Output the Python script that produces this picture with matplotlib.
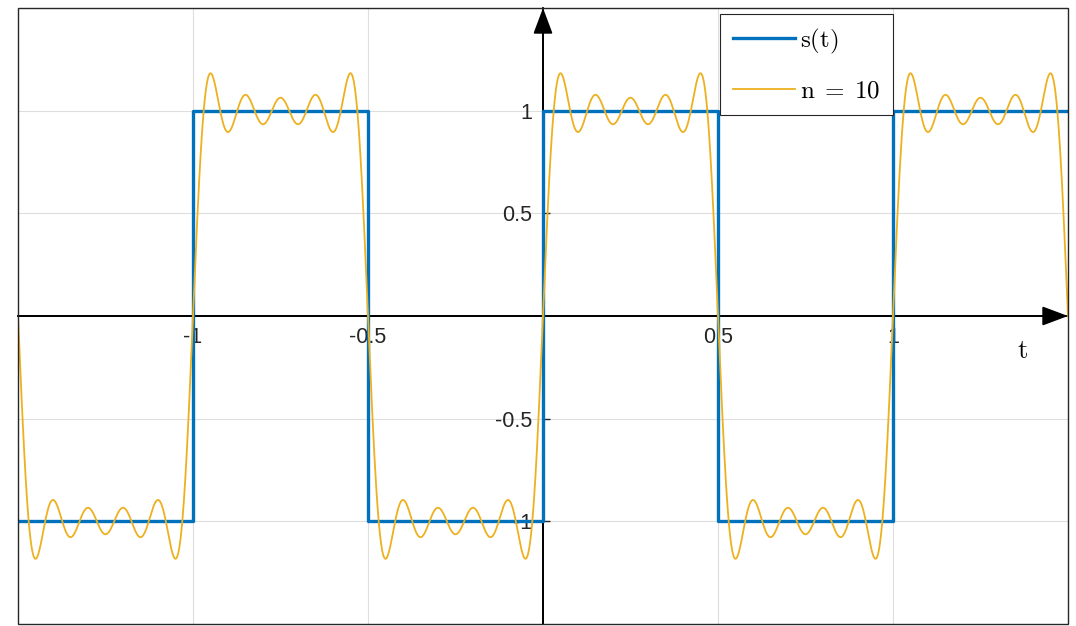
import numpy as np
import matplotlib.pyplot as plt
from matplotlib.patches import Rectangle

plt.rcParams['font.family'] = ['Liberation Sans', 'DejaVu Sans']
plt.rcParams['mathtext.fontset'] = 'cm'
plt.rcParams['axes.unicode_minus'] = False

# square wave s(t): one level per half period
edges = [-1.5, -1.0, -0.5, 0.0, 0.5, 1.0, 1.5]
levels = [-1, 1, -1, 1, -1, 1]

# Fourier partial sum with n terms
n_terms = 10
t = np.linspace(-1.5, 1.5, 3001)

xticks = [-1, -0.5, 0.5, 1]
xticklabels = ['-1', '-0.5', '0.5', '1']
yticks = [-1, -0.5, 0.5, 1]
yticklabels = ['-1', '-0.5', '0.5', '1']

blue = '#0072BD'
orange = '#EDB120'

sn = np.zeros_like(t)
for k in range(1, n_terms + 1):
    sn += 2 / (np.pi * k) * (1 - np.cos(np.pi * k)) * np.sin(2 * np.pi * k * t)

fig = plt.figure(figsize=(10.76, 6.26), dpi=100)
ax = fig.add_axes([18 / 1076, 2 / 626, 1050 / 1076, 616 / 626])

ax.step(edges, levels + [levels[-1]], where='post', color=blue, lw=2.4, label=r'$\mathrm{s(t)}$', zorder=3)
ax.plot(t, sn, color=orange, lw=1.3, label=r'$\mathrm{n\;=\;10}$', zorder=4)

ax.set_xlim(-1.5, 1.5)
ax.set_ylim(-1.5, 1.5)
ax.set_xticks(xticks, xticklabels)
ax.set_yticks(yticks, yticklabels)
ax.tick_params(direction='in', length=5, width=1, pad=8, labelsize=15.5, colors='#262626')
ax.set_axisbelow(True)
ax.grid(True, color='#dedede', lw=0.8)

for s in ['top', 'right']:
    ax.spines[s].set_visible(False)
ax.spines['left'].set_position(('data', 0))
ax.spines['bottom'].set_position(('data', 0))
ax.spines['left'].set_linewidth(1.3)
ax.spines['bottom'].set_linewidth(1.3)
ax.add_patch(Rectangle((0, 0), 1, 1, transform=ax.transAxes, fill=False,
                       lw=1.0, edgecolor='#262626', clip_on=False, zorder=5))

arrow = dict(arrowstyle='-|>,head_length=0.8,head_width=0.3', color='black',
             lw=1.3, shrinkA=0, shrinkB=0, mutation_scale=20)
ax.annotate('', xy=(0, 1.5), xytext=(0, -1.5), arrowprops=arrow, zorder=2)
ax.annotate('', xy=(1.5, 0), xytext=(-1.5, 0), arrowprops=arrow, zorder=2)

ax.text(1.371, -0.17, r'$\mathrm{t}$', fontsize=19, ha='center', va='center')

leg = ax.legend(loc='upper right', bbox_to_anchor=(0.8333, 0.990), borderaxespad=0,
                fancybox=False, edgecolor='#262626', framealpha=1, fontsize=18,
                handlelength=2.5, handletextpad=0.2, borderpad=0.5, labelspacing=0.9)
leg.get_frame().set_linewidth(0.8)
leg.set_zorder(6)

fig.savefig('out.png', dpi=100)
